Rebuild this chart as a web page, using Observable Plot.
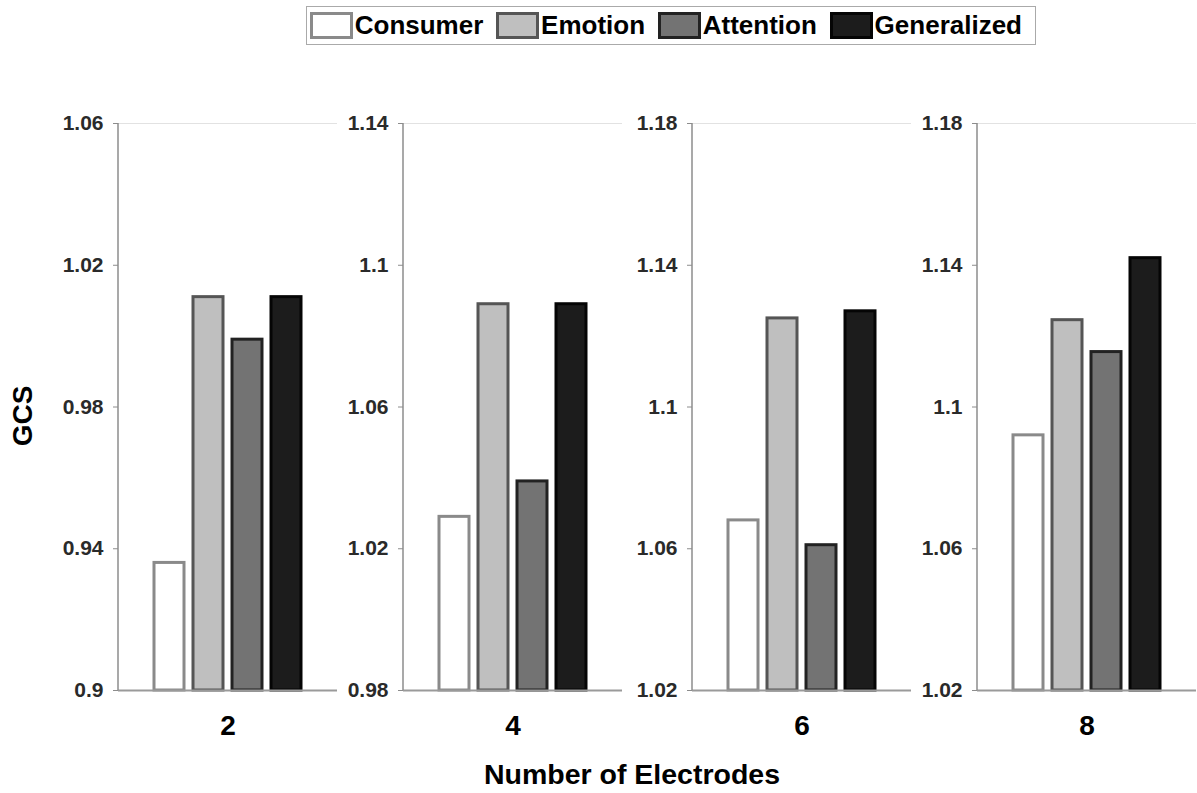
<!DOCTYPE html>
<html>
<head>
<meta charset="utf-8">
<script src="https://cdn.jsdelivr.net/npm/d3@7"></script>
<script src="https://cdn.jsdelivr.net/npm/@observablehq/plot@0.6"></script>
<style>
  html, body { margin: 0; padding: 0; background: #fff; }
  #root { position: relative; width: 1197px; height: 793px; overflow: hidden;
          font-family: "Liberation Sans", Arial, sans-serif; font-weight: bold; }
  .panel { position: absolute; top: 100px; }
  .panel svg { overflow: visible; }
  #legend { position: absolute; left: 306px; top: 6px; width: 730px; height: 39px;
            box-sizing: border-box; border: 1px solid #aaa; display: flex; align-items: center;
            padding-left: 3px; font-size: 26px; color: #000; white-space: nowrap; }
  .sw { width: 45px; height: 27px; box-sizing: border-box; border: 3px solid; }
  .lt { margin-left: 2px; margin-right: 13px; }
  #ytitle { position: absolute; left: 23px; top: 416px; transform: translate(-50%, -50%) rotate(-90deg);
            font-size: 28px; color: #000; white-space: nowrap; }
  #xtitle { position: absolute; left: 632px; top: 774px; transform: translate(-50%, -50%);
            font-size: 28.5px; color: #000; white-space: nowrap; }
</style>
</head>
<body>
<div id="root">
  <div id="legend"></div>
  <div id="ytitle">GCS</div>
  <div id="xtitle">Number of Electrodes</div>
</div>
<script>
// ---- data ----
const categories = ["Consumer", "Emotion", "Attention", "Generalized"];
const electrodes = [2, 4, 6, 8];
const consumer    = [0.936, 1.029, 1.068, 1.092];
const emotion     = [1.011, 1.089, 1.125, 1.1245];
const attention   = [0.999, 1.039, 1.061, 1.1155];
const generalized = [1.011, 1.089, 1.127, 1.142];
const yTicks = [
  [0.9, 0.94, 0.98, 1.02, 1.06],
  [0.98, 1.02, 1.06, 1.1, 1.14],
  [1.02, 1.06, 1.1, 1.14, 1.18],
  [1.02, 1.06, 1.1, 1.14, 1.18]
];
const fills   = ["#ffffff", "#bfbfbf", "#737373", "#1c1c1c"];
const strokes = ["#8a8a8a", "#555555", "#222222", "#050505"];

// ---- styles / layout ----
const panelLeft = [58, 343, 632, 917];
const series = [consumer, emotion, attention, generalized];
const root = document.getElementById("root");

function leftLine(index, scales, values, dims) {
  const ns = "http://www.w3.org/2000/svg";
  const l = document.createElementNS(ns, "line");
  l.setAttribute("x1", dims.marginLeft);
  l.setAttribute("x2", dims.marginLeft);
  l.setAttribute("y1", dims.marginTop);
  l.setAttribute("y2", dims.height - dims.marginBottom);
  l.setAttribute("stroke", "#8c8c8c");
  l.setAttribute("stroke-width", 1.5);
  return l;
}

electrodes.forEach((e, i) => {
  const data = categories.map((c, j) => ({electrodes: e, category: c, value: series[j][i]}));
  const ticks = yTicks[i];
  const ymin = ticks[0], ymax = ticks[ticks.length - 1];
  const chart = Plot.plot({
    width: 279,
    height: 650,
    marginLeft: 60,
    marginRight: 0,
    marginTop: 23,
    marginBottom: 60,
    style: {fontFamily: '"Liberation Sans", Arial, sans-serif', fontWeight: "bold", background: "transparent", overflow: "visible"},
    fx: {domain: [e], padding: 0, label: null, axis: null},
    x: {domain: categories, paddingInner: 0.23, paddingOuter: 0.92, axis: null},
    y: {domain: [ymin, ymax], axis: null},
    color: {domain: categories, range: fills},
    marks: [
      Plot.ruleY([ymax], {stroke: "#e2e2e2", strokeWidth: 1}),
      Plot.barY(data, {
        fx: "electrodes", x: "category", y1: ymin, y2: "value",
        fill: "category",
        stroke: (d) => strokes[categories.indexOf(d.category)],
        strokeWidth: 3
      }),
      Plot.ruleY([ymin], {stroke: "#9a9a9a", strokeWidth: 2}),
      leftLine,
      Plot.axisY({ticks: ticks, tickFormat: (d) => String(d), tickSize: 5, tickPadding: 10,
                  fontSize: 21, fontWeight: "bold", fill: "#2a2a2a", stroke: "#8c8c8c", label: null}),
      Plot.axisFx({anchor: "bottom", tickSize: 0, tickPadding: 25, fontSize: 28, fontWeight: "bold",
                   fill: "#000", label: null})
    ]
  });
  const div = document.createElement("div");
  div.className = "panel";
  div.style.left = panelLeft[i] + "px";
  div.appendChild(chart);
  root.appendChild(div);
});

// ---- legend ----
const legend = document.getElementById("legend");
categories.forEach((c, j) => {
  const sw = document.createElement("div");
  sw.className = "sw";
  sw.style.background = fills[j];
  sw.style.borderColor = strokes[j];
  const t = document.createElement("span");
  t.className = "lt";
  t.textContent = c;
  legend.appendChild(sw);
  legend.appendChild(t);
});
</script>
</body>
</html>
